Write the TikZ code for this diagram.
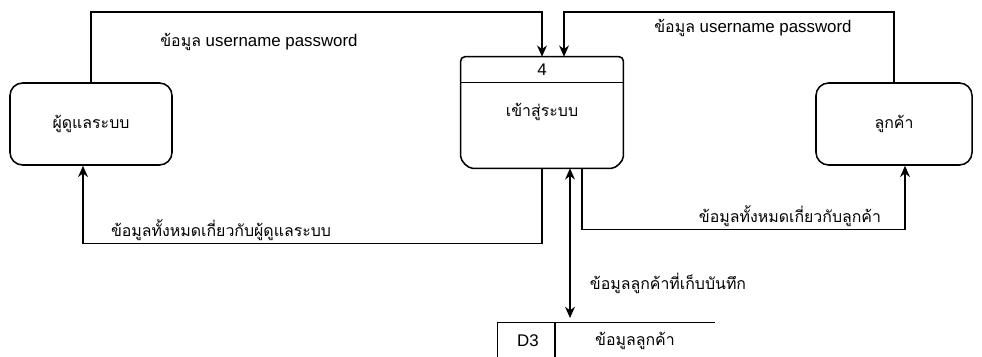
\documentclass[tikz,border=0pt]{standalone}
\usepackage{fontspec}
\setmainfont{Liberation Sans}
\newfontfamily\thaifont[Script=Thai]{Loma}
\newcommand{\thaitext}{\thaifont\fontsize{11.3}{13}\selectfont}
\usetikzlibrary{arrows.meta,positioning,calc}
\tikzset{
  entity/.style={draw, rounded corners=9pt, line width=1.1pt, minimum width=#1,
                 minimum height=2.05cm, font=\thaitext},
  procbox/.style={minimum width=4.05cm, minimum height=2.775cm, inner sep=0pt},
  lbl/.style={font=\fontsize{12}{14}\selectfont, inner sep=1pt},
  tlbl/.style={font=\thaitext, inner sep=1pt},
  flowline/.style={-{Stealth[length=8pt,width=7pt]}, line width=1.1pt},
  twoway/.style={{Stealth[length=8pt,width=7pt]}-{Stealth[length=8pt,width=7pt]}, line width=1.1pt},
}

\begin{document}
\begin{tikzpicture}[x=0.025cm, y=-0.025cm]
\useasboundingbox (0,0) rectangle (982,356);

% External entities
\node[entity=4.05cm] (admin) at (91,124) {ผู้ดูแลระบบ};
\node[entity=3.9cm] (cust) at (894,124) {ลูกค้า};

% Process 4
\node[procbox] (proc) at (542,112.5) {};
\draw[line width=1.1pt, rounded corners=3pt] (proc.north west) -- (proc.north east)
      -- ([yshift=0.4cm]proc.south east) arc (0:-90:0.4cm)
      -- ([xshift=0.4cm]proc.south west) arc (270:180:0.4cm) -- cycle;
\draw[line width=1.1pt] ($(proc.north west)+(0,26)$) -- ($(proc.north east)+(0,26)$);
\node[lbl] (pnum) at (542,70) {4};
\node[tlbl] (pname) at (542,112) {เข้าสู่ระบบ};

% Data store D3
\node[minimum width=5.425cm, minimum height=0.85cm, inner sep=0pt] (store) at (606.5,340) {};
\draw[line width=1.1pt] (store.south west) -- (store.north west) -- (store.north east);
\coordinate (sdiv) at (555,323);
\draw[line width=1.1pt] (sdiv) -- (sdiv |- store.south);
\node[lbl] (sid) at (528,341) {D3};
\node[tlbl] (sname) at (635,341) {ข้อมูลลูกค้า};
\coordinate (dbtop) at (570,318);

% Data flows
\draw[flowline] (admin.north) -- ++(0,-70) -| (proc.north);
\draw[flowline] (cust.north) -- ++(0,-70) -| ([xshift=0.55cm]proc.north);
\draw[flowline] (proc.south) -- ++(0,75) -| ([xshift=-0.2cm]admin.south);
\draw[flowline] ([xshift=1cm]proc.south) -- ++(0,61) -| ([xshift=0.275cm]cust.south);
\draw[twoway] (proc.south -| dbtop) -- (dbtop);

% Flow labels
\node[lbl] (f1) at (259,42) {{\thaitext ข้อมูล} username password};
\node[lbl] (f2) at (753,28) {{\thaitext ข้อมูล} username password};
\node[tlbl] (f3) at (221,230) {ข้อมูลทั้งหมดเกี่ยวกับผู้ดูแลระบบ};
\node[tlbl] (f4) at (790,216) {ข้อมูลทั้งหมดเกี่ยวกับลูกค้า};
\node[tlbl] (f5) at (668,283) {ข้อมูลลูกค้าที่เก็บบันทึก};

\end{tikzpicture}
\end{document}
